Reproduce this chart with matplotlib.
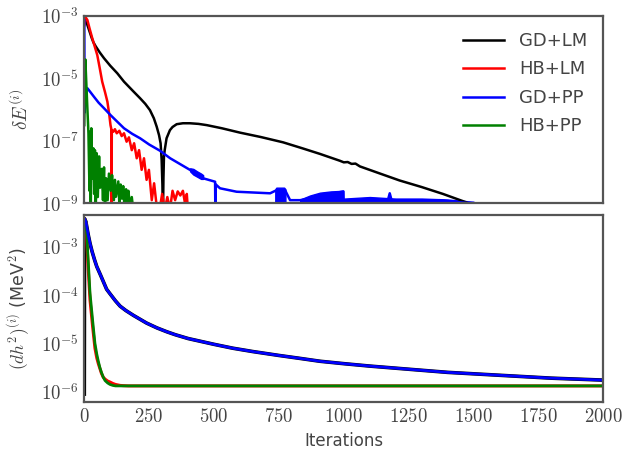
import numpy as np
import matplotlib
matplotlib.use('Agg')
import matplotlib.pyplot as plt
from matplotlib.ticker import FuncFormatter, NullLocator

plt.rcParams['font.family'] = ['DejaVu Sans']
plt.rcParams['mathtext.fontset'] = 'cm'

# ---- upper panel: delta E per iteration (log10 values) ----
gd_lm_it = [0, 5, 12, 20, 28, 35, 44, 60, 76, 100, 127, 153, 189, 215, 235, 253, 268, 279, 288,
            294, 298, 301, 303, 305, 307, 310, 317, 330, 340, 356, 380, 407, 440, 472, 530, 600,
            680, 766, 840, 908, 985, 1000, 1015, 1030, 1045, 1062, 1140, 1215, 1300, 1382, 1472,
            1500]
gd_lm_dE = [-3.2, -3.12, -3.3, -3.5, -3.7, -3.85, -3.98, -4.18, -4.36, -4.6, -4.84, -5.11,
            -5.42, -5.64, -5.82, -6.02, -6.28, -6.55, -6.82, -7.08, -7.6, -8.4, -9.5, -8.2,
            -7.5, -7.29, -6.92, -6.66, -6.56, -6.47, -6.44, -6.44, -6.46, -6.50, -6.6, -6.74,
            -6.88, -7.05, -7.24, -7.42, -7.64, -7.69, -7.68, -7.74, -7.73, -7.82, -8.05,
            -8.27, -8.48, -8.70, -8.97, -9.1]

hb_lm_it = [0, 5, 12, 20, 30, 40, 50, 60, 69, 80, 89, 96, 101, 104, 105, 106, 112, 118, 125,
            135, 144, 153, 163, 172, 183, 192, 202, 211, 221, 230, 240, 249, 260, 269, 279, 290,
            300, 310, 320, 330, 340, 350, 360, 370, 380, 390, 395, 400]
hb_lm_dE = [-3.3, -3.05, -3.14, -3.4, -3.7, -3.98, -4.26, -4.7, -5.11, -5.45, -5.75, -6.15,
            -6.5, -6.62, -9.3, -6.66, -6.71, -6.63, -6.76, -6.68, -6.85, -6.76, -7.03, -6.89,
            -7.30, -7.08, -7.56, -7.30, -7.93, -7.56, -8.25, -7.93, -8.9, -8.36, -9.1, -9.2,
            -8.7, -9.2, -8.8, -9.2, -8.6, -8.9, -8.62, -8.75, -8.6, -9.1, -8.7, -9.3]

gd_pp_it = [0, 1, 8, 12, 25, 37, 55, 76, 100, 127, 153, 185, 215, 250, 292, 331, 370, 407,
            446, 458, 504, 505, 507, 523, 587, 716, 736, 775, 793, 832, 998, 1000, 1062, 1170,
            1177, 1184, 1215, 1370, 1486, 1520]
gd_pp_dE = [-3.15, -6.1, -5.35, -5.32, -5.46, -5.59, -5.78, -5.96, -6.17, -6.39, -6.60, -6.78,
            -6.92, -7.12, -7.32, -7.56, -7.75, -7.93, -8.15, -8.2, -8.31, -9.3, -8.4, -8.52,
            -8.63, -8.68, -8.6, -8.6, -8.9, -8.9, -8.62, -9.2, -8.92, -8.9, -8.68, -8.9, -8.9,
            -8.9, -9.0, -9.2]

# noisy stretches of GD+PP drawn as envelopes (iteration, low, high)
gd_pp_band_it = [[408, 420, 435, 450, 458],
                 [736, 740, 770, 775],
                 [832, 870, 908, 950, 998],
                 [1000, 1100, 1200, 1300, 1400, 1500]]
gd_pp_band_lo = [[-7.98, -8.08, -8.15, -8.22, -8.22],
                 [-9.3, -9.3, -9.3, -9.3],
                 [-9.3, -9.1, -9.0, -8.95, -8.95],
                 [-9.3, -9.3, -9.3, -9.3, -9.3, -9.3]]
gd_pp_band_hi = [[-7.88, -7.9, -7.98, -8.05, -8.1],
                 [-8.55, -8.5, -8.5, -8.55],
                 [-8.88, -8.75, -8.66, -8.62, -8.60],
                 [-8.85, -8.8, -8.85, -8.85, -8.88, -8.95]]

hb_pp_it = [0, 4, 8, 12, 16, 20, 22, 25, 27, 31, 35, 38, 41, 44, 48, 52, 57, 61, 67, 72, 76,
            80, 84, 90, 95, 102, 107, 114, 118, 122, 131, 135, 140, 145, 150, 156, 161, 166,
            170, 176, 183, 190]
hb_pp_dE = [-6.5, -4.4, -5.2, -6.0, -6.76, -8.6, -6.71, -9.3, -6.6, -8.2, -7.24, -8.7, -7.3,
            -9.3, -7.4, -8.8, -7.5, -8.5, -7.9, -8.9, -7.85, -9.3, -8.2, -8.9, -8.05, -8.6,
            -8.1, -8.9, -8.25, -8.79, -8.3, -9.0, -8.4, -8.85, -8.45, -9.3, -8.55, -8.95, -8.6,
            -9.1, -8.8, -9.3]

# ---- lower panel: (dh^2) per iteration (log10 values) ----
dh_gd_it = [0, 1, 6, 10, 15, 22, 30, 40, 48, 62, 86, 100, 120, 138, 160, 189, 240, 280, 318,
            350, 400, 450, 500, 572, 650, 750, 830, 908, 1000, 1100, 1215, 1400, 1600, 1800, 2000]
dh_gd_lm = [-6.05, -2.42, -2.48, -2.6, -2.75, -2.93, -3.1, -3.28, -3.41, -3.58, -3.88, -3.98,
            -4.12, -4.23, -4.32, -4.42, -4.58, -4.68, -4.76, -4.82, -4.9, -4.96, -5.02, -5.1,
            -5.17, -5.25, -5.31, -5.37, -5.42, -5.47, -5.52, -5.60, -5.66, -5.72, -5.76]
dh_gd_pp = [-2.42, -2.42, -2.48, -2.6, -2.75, -2.93, -3.1, -3.28, -3.41, -3.58, -3.88, -3.98,
            -4.12, -4.23, -4.32, -4.42, -4.58, -4.68, -4.76, -4.82, -4.9, -4.96, -5.02, -5.1,
            -5.17, -5.25, -5.31, -5.37, -5.42, -5.47, -5.52, -5.60, -5.66, -5.72, -5.76]

dh_hb_it = [0, 3, 6, 10, 15, 22, 32, 41, 48, 54, 60, 66, 73, 80, 90, 99, 110, 120, 138, 150,
            170, 2000]
dh_hb_lm = [-2.42, -2.45, -2.5, -2.9, -3.45, -4.1, -4.65, -5.1, -5.3, -5.42, -5.52, -5.62,
            -5.7, -5.74, -5.78, -5.8, -5.83, -5.85, -5.87, -5.875, -5.88, -5.88]
dh_hb_pp = [-2.42, -2.45, -2.48, -2.8, -3.28, -3.96, -4.52, -5.0, -5.22, -5.37, -5.5, -5.6,
            -5.7, -5.77, -5.82, -5.85, -5.87, -5.88, -5.88, -5.88, -5.88, -5.88]

labels = ['GD+LM', 'HB+LM', 'GD+PP', 'HB+PP']
colors = ['black', 'red', 'blue', 'green']

text_color = '#444444'
spine_color = '#555555'

fig = plt.figure(figsize=(6.23, 4.5), dpi=100)
ax1 = fig.add_axes([84.3 / 623, 1 - 203.3 / 450, 519 / 623, 187.6 / 450])
ax2 = fig.add_axes([84.3 / 623, 1 - 401.7 / 450, 519 / 623, 186.7 / 450])


def p(v):
    return 10.0 ** np.array(v)


lw = 1.8
ax1.plot(gd_lm_it, p(gd_lm_dE), color=colors[0], lw=lw, label=labels[0])
ax1.plot(hb_lm_it, p(hb_lm_dE), color=colors[1], lw=lw, label=labels[1])
ax1.plot(gd_pp_it, p(gd_pp_dE), color=colors[2], lw=lw, label=labels[2])
for bx, blo, bhi in zip(gd_pp_band_it, gd_pp_band_lo, gd_pp_band_hi):
    ax1.fill_between(bx, p(blo), p(bhi), color=colors[2], lw=1.0, edgecolor=colors[2])
ax1.plot(hb_pp_it, p(hb_pp_dE), color=colors[3], lw=lw, label=labels[3])

ax2.plot(dh_gd_it, p(dh_gd_lm), color=colors[0], lw=2.6)
ax2.plot(dh_hb_it, p(dh_hb_lm), color=colors[1], lw=2.2)
ax2.plot(dh_hb_it, p(dh_hb_pp), color=colors[3], lw=2.0)
ax2.plot(dh_gd_it, p(dh_gd_pp), color=colors[2], lw=2.0)

for ax in (ax1, ax2):
    ax.set_yscale('log')
    ax.set_xlim(0, 2000)
    for s in ax.spines.values():
        s.set_color(spine_color)
        s.set_linewidth(1.6)
    ax.tick_params(length=0, labelsize=13.5, labelcolor=text_color, pad=4)
    ax.yaxis.set_minor_locator(NullLocator())
    ax.yaxis.set_major_formatter(FuncFormatter(lambda v, pos: r'$10^{%d}$' % int(round(np.log10(v)))))

ax1.set_ylim(1e-9, 1e-3)
ax1.set_yticks([1e-3, 1e-5, 1e-7, 1e-9])
ax1.set_xticks(np.arange(0, 2001, 250))
ax1.set_xticklabels([])

ax2.set_ylim(10 ** -6.207, 10 ** -2.344)
ax2.set_yticks([1e-3, 1e-4, 1e-5, 1e-6])
ax2.set_xticks(np.arange(0, 2001, 250))
ax2.xaxis.set_major_formatter(FuncFormatter(lambda v, pos: r'$%d$' % v))

ax1.set_ylabel(r'$\delta E^{(i)}$', fontsize=14, color=text_color, labelpad=6)
ax2.set_ylabel(r'$(dh^2)^{(i)}$ (MeV$^2$)', fontsize=12.5, color=text_color, labelpad=6)
ax2.set_xlabel('Iterations', fontsize=12, color=text_color, labelpad=4)

leg = ax1.legend(loc='upper right', frameon=False, fontsize=13, handlelength=2.3,
                 labelspacing=0.58, borderaxespad=0.5)
for t in leg.get_texts():
    t.set_color(text_color)

fig.savefig('out.png', dpi=100)
